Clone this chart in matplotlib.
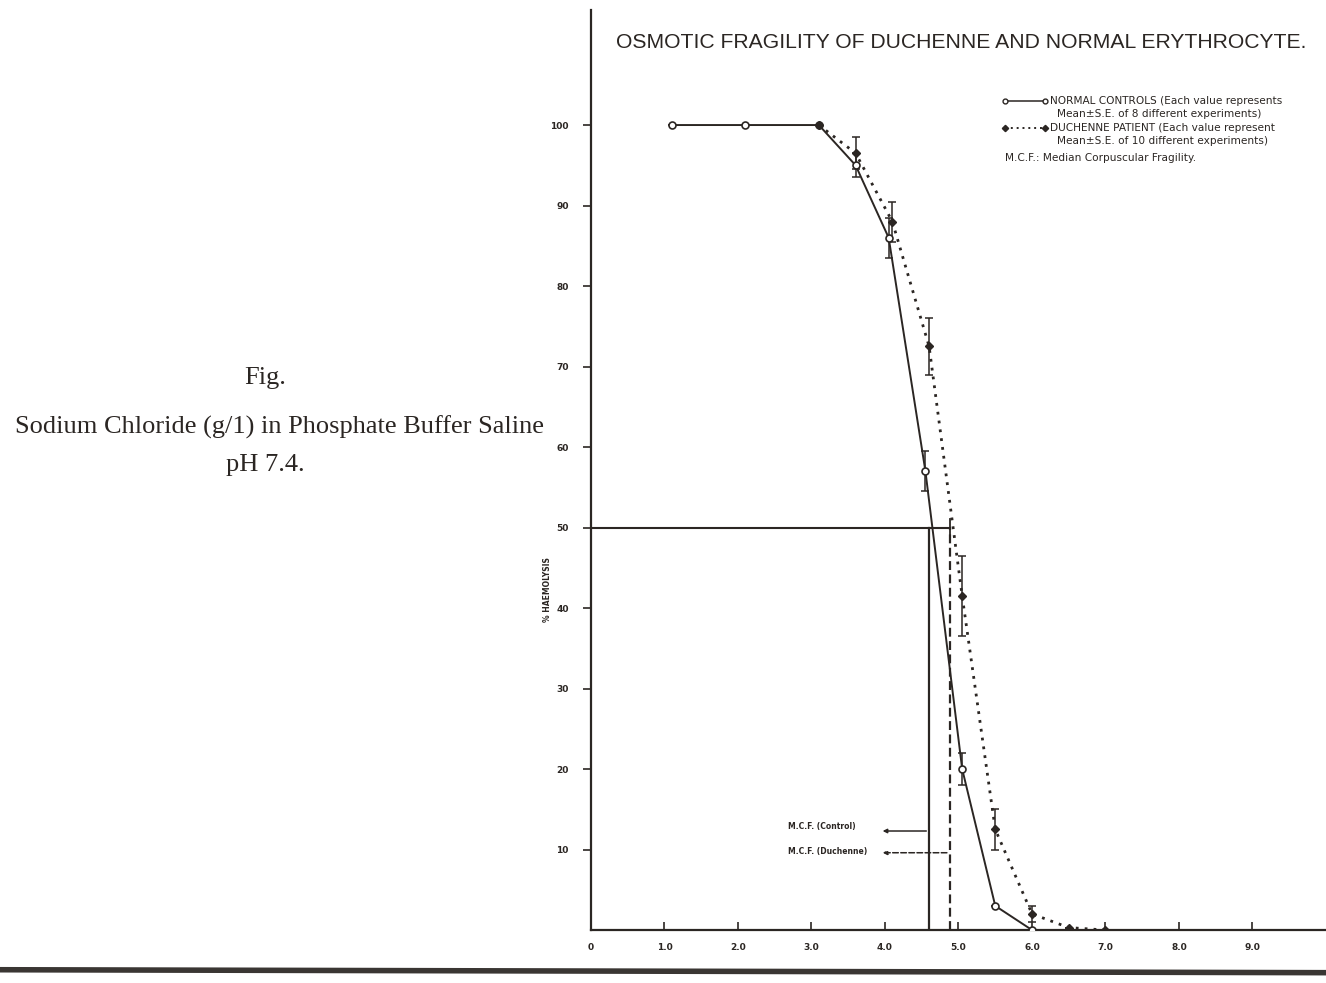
import numpy as np
import matplotlib.pyplot as plt
from matplotlib.lines import Line2D

# NaCl concentration (g/l) and % haemolysis
normal_x = [1.1, 2.1, 3.1, 3.6, 4.05, 4.55, 5.05, 5.5, 6.0]
normal_y = [100, 100, 100, 95, 86, 57, 20, 3, 0]
normal_err = [0, 0, 0, 1.5, 2.5, 2.5, 2.0, 0, 0]

duch_x = [3.1, 3.6, 4.1, 4.6, 5.05, 5.5, 6.0, 6.5, 7.0]
duch_y = [100, 96.5, 88, 72.5, 41.5, 12.5, 2, 0.3, 0]
duch_err = [0, 2.0, 2.5, 3.5, 5.0, 2.5, 1.0, 0, 0]

mcf_control = 4.6
mcf_duchenne = 4.88

x_ticks = [0, 1, 2, 3, 4, 5, 6, 7, 8, 9]
x_ticklabels = ["0", "1.0", "2.0", "3.0", "4.0", "5.0", "6.0", "7.0", "8.0", "9.0"]
y_ticks = [10, 20, 30, 40, 50, 60, 70, 80, 90, 100]

ink = "#2b2623"

fig = plt.figure(figsize=(13.26, 9.83), dpi=100)
ax = fig.add_axes([0.4457, 0.0539, 0.5543, 0.936])
ax.set_xlim(0, 10.0)
ax.set_ylim(0, 114.3)

for s in ["top", "right"]:
    ax.spines[s].set_visible(False)
for s in ["left", "bottom"]:
    ax.spines[s].set_color(ink)
    ax.spines[s].set_linewidth(1.6)

ax.set_xticks(x_ticks)
ax.set_xticklabels(x_ticklabels)
ax.set_yticks(y_ticks)
ax.set_yticklabels([str(v) for v in y_ticks])
ax.tick_params(axis="x", direction="in", length=6, width=1.2, colors=ink,
               labelsize=6.5, pad=9)
ax.tick_params(axis="y", direction="out", length=6, width=1.2, colors=ink,
               labelsize=6.5, pad=10)
for t in ax.get_xticklabels() + ax.get_yticklabels():
    t.set_fontweight("bold")

# normal controls
ax.plot(normal_x, normal_y, color=ink, lw=1.4, marker="o", ms=5,
        mfc="white", mec=ink, mew=1.2, zorder=4)
ax.errorbar(normal_x, normal_y, yerr=normal_err, fmt="none", ecolor=ink,
            elinewidth=1.1, capsize=3, capthick=1.1, zorder=3)

# duchenne patients
ax.plot(duch_x, duch_y, color=ink, lw=2.0, ls=(0, (1, 2.2)), marker="D",
        ms=4.5, mfc=ink, mec=ink, zorder=4)
ax.errorbar(duch_x, duch_y, yerr=duch_err, fmt="none", ecolor=ink,
            elinewidth=1.1, capsize=3, capthick=1.1, ls="--", zorder=3)

# median corpuscular fragility construction lines
ax.plot([0, mcf_duchenne], [50, 50], color=ink, lw=1.5)
ax.plot([mcf_duchenne, mcf_duchenne], [49, 51], color=ink, lw=1.3)
ax.plot([mcf_control, mcf_control], [0, 50], color=ink, lw=1.6)
ax.plot([mcf_duchenne, mcf_duchenne], [0, 50], color=ink, lw=1.6, ls=(0, (4, 2)))

ax.annotate("", xy=(3.93, 12.3), xytext=(mcf_control, 12.3),
            arrowprops=dict(arrowstyle="-|>", color=ink, lw=1.1,
                            mutation_scale=6))
ax.annotate("", xy=(3.93, 9.6), xytext=(mcf_duchenne, 9.6),
            arrowprops=dict(arrowstyle="-|>", color=ink, lw=1.1, ls="--",
                            mutation_scale=6))
ax.text(2.68, 12.8, "M.C.F. (Control)", fontsize=5.5, fontweight="bold",
        color=ink, va="center")
ax.text(2.68, 9.8, "M.C.F. (Duchenne)", fontsize=5.5, fontweight="bold",
        color=ink, va="center")

# legend drawn by hand, like the original
lx0, lx1 = 5.63, 6.18
ax.plot([lx0, lx1], [103.0, 103.0], color=ink, lw=1.1, marker="o", ms=3.5,
        mfc="white", mec=ink)
ax.plot([lx0, lx1], [99.6, 99.6], color=ink, lw=1.4, ls=(0, (1, 2)),
        marker="D", ms=3.2, mfc=ink, mec=ink)
leg_kw = dict(fontsize=7.6, color=ink, va="center")
ax.text(6.24, 103.0, "NORMAL CONTROLS (Each value represents", **leg_kw)
ax.text(6.34, 101.4, "Mean\u00b1S.E. of 8 different experiments)", **leg_kw)
ax.text(6.24, 99.6, "DUCHENNE PATIENT (Each value represent", **leg_kw)
ax.text(6.34, 98.0, "Mean\u00b1S.E. of 10 different experiments)", **leg_kw)
ax.text(5.63, 95.9, "M.C.F.: Median Corpuscular Fragility.", **leg_kw)

# title and y label
fig.text(0.4645, 0.957, "OSMOTIC FRAGILITY OF DUCHENNE AND NORMAL ERYTHROCYTE.",
         family=["Liberation Sans", "DejaVu Sans"], fontsize=15.2,
         color=ink, va="center", ha="left")
fig.text(0.413, 0.40, "% HAEMOLYSIS", rotation=90, fontsize=5.5,
         fontweight="bold", color=ink, ha="center", va="center")

# caption on the left
serif = ["Liberation Serif", "DejaVu Serif"]
fig.text(0.2, 0.615, "Fig.", family=serif, fontsize=19, color=ink,
         ha="center", va="center")
fig.text(0.2105, 0.565, "Sodium Chloride (g/1) in Phosphate Buffer Saline",
         family=serif, fontsize=19, color=ink, ha="center", va="center")
fig.text(0.2, 0.527, "pH 7.4.", family=serif, fontsize=19, color=ink,
         ha="center", va="center")

# dark page edge at the bottom of the scan
fig.add_artist(Line2D([0.0, 1.0], [0.0135, 0.0105], transform=fig.transFigure,
                      color="#3a3633", lw=4))

fig.savefig("out.png", dpi=100)
